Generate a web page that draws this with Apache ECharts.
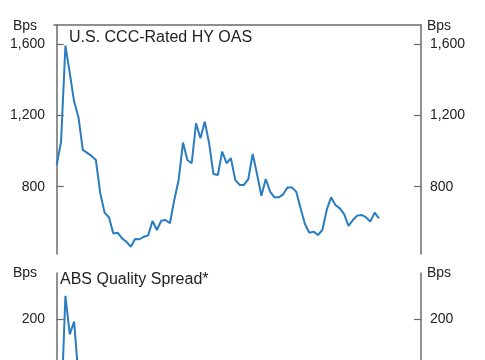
<!DOCTYPE html>
<html>
<head>
<meta charset="utf-8">
<script src="https://cdn.jsdelivr.net/npm/echarts@6/dist/echarts.min.js"></script>
<style>
html,body{margin:0;padding:0;background:#fff;}
#c{width:485px;height:360px;}
</style>
</head>
<body>
<div id="c"></div>
<script>
// Top panel: U.S. CCC-Rated HY OAS (bps), one value per period
const cccOas = [922,1053,1594,1440,1279,1191,1007,990,973,950,
  763,654,628,537,541,509,490,462,505,504,
  518,526,607,556,608,612,594,725,838,1048,
  950,932,1157,1073,1166,1044,871,866,997,932,
  960,838,810,810,843,984,871,749,843,772,
  740,740,757,796,796,772,678,590,541,547,
  528,556,669,740,697,678,645,579,612,637,
  641,628,603,654,622];
// Bottom panel: ABS Quality Spread (bps), visible beginning only
const absSpread = [40,40,240,174,196,100];
const topTicks = [800,1200,1600];
const bottomTicks = [200];
const topTitle = 'U.S. CCC-Rated HY OAS';
const bottomTitle = 'ABS Quality Spread*';
const unitLabel = 'Bps';

const FONT = 'Liberation Sans, Arial, sans-serif';
const AXIS_COLOR = '#6b6b6b';
const LINE_COLOR = '#2a7cc0';

function yAx(gridIndex, pos, min, max, ticks){
  return {
    type:'value', gridIndex, position:pos, min, max,
    axisLine:{show:true, lineStyle:{color:AXIS_COLOR, width:1.5}},
    axisTick:{show:true, inside:true, length:7, customValues:ticks, lineStyle:{color:AXIS_COLOR, width:1.2}},
    axisLabel:{show:true, margin:9, customValues:ticks, color:'#222', fontSize:14, fontFamily:FONT,
      formatter:v=>v.toLocaleString('en-US')},
    splitLine:{show:false}
  };
}
function xAx(gridIndex, showLine){
  return {
    type:'value', gridIndex, position:'top', min:-0.62, max:83.65,
    axisLine:{show:showLine, onZero:false, lineStyle:{color:AXIS_COLOR, width:1.5}},
    axisTick:{show:false}, axisLabel:{show:false}, splitLine:{show:false}
  };
}

const chart = echarts.init(document.getElementById('c'), null, {renderer:'canvas'});
chart.setOption({
  animation:false,
  backgroundColor:'#fff',
  grid:[
    {left:54, top:25, width:367, height:229},
    {left:54, top:273, width:367, height:87}
  ],
  xAxis:[xAx(0,true), xAx(1,false)],
  yAxis:[
    yAx(0,'left',421,1710,topTicks),
    yAx(0,'right',421,1710,topTicks),
    yAx(1,'left',130,279,bottomTicks),
    yAx(1,'right',130,279,bottomTicks)
  ],
  series:[
    {type:'line', xAxisIndex:0, yAxisIndex:0, data:cccOas.map((v,i)=>[i,v]),
      showSymbol:false, lineStyle:{color:LINE_COLOR, width:2}, itemStyle:{color:LINE_COLOR}},
    {type:'line', xAxisIndex:1, yAxisIndex:2, data:absSpread.map((v,i)=>[i,v]), clip:true,
      showSymbol:false, lineStyle:{color:LINE_COLOR, width:2}, itemStyle:{color:LINE_COLOR}}
  ],
  graphic:[
    {type:'text', left:69, top:30, style:{text:topTitle, font:'16px '+FONT, fill:'#222'}},
    {type:'text', left:60, top:272, style:{text:bottomTitle, font:'16px '+FONT, fill:'#222'}},
    {type:'text', left:13, top:19, style:{text:unitLabel, font:'14px '+FONT, fill:'#222'}},
    {type:'text', left:427, top:19, style:{text:unitLabel, font:'14px '+FONT, fill:'#222'}},
    {type:'text', left:13, top:266, style:{text:unitLabel, font:'14px '+FONT, fill:'#222'}},
    {type:'text', left:427, top:266, style:{text:unitLabel, font:'14px '+FONT, fill:'#222'}}
  ]
});
</script>
</body>
</html>
